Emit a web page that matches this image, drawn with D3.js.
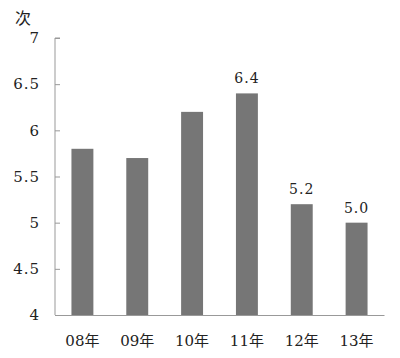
<!DOCTYPE html>
<html><head><meta charset="utf-8">
<script src="https://cdn.jsdelivr.net/npm/d3@7"></script>
<style>body{margin:0;background:#fff}svg{display:block}svg text{font-family:"DejaVu Serif","Liberation Serif","Times New Roman","Noto Sans CJK SC",serif !important;fill:#222}</style>
</head><body><div id="chart"></div>
<script>
const categories = ["08年","09年","10年","11年","12年","13年"];
const values = [5.8, 5.7, 6.2, 6.4, 5.2, 5.0];
const labelled = ["", "", "", "6.4", "5.2", "5.0"];
const yTicks = [4, 4.5, 5, 5.5, 6, 6.5, 7];
const yTitle = "次";

const W = 400, H = 358;
const m = {left: 55, right: 16, top: 38, bottom: 43};
const svg = d3.select("#chart").append("svg").attr("width", W).attr("height", H);

const x = d3.scaleBand().domain(categories).range([m.left, W - m.right]).paddingInner(0.6).paddingOuter(0.3);
const y = d3.scaleLinear().domain([4, 7]).range([H - m.bottom, m.top]);

svg.selectAll("rect.bar").data(values).join("rect")
  .attr("class","bar")
  .attr("x",(d,i)=>x(categories[i]))
  .attr("width",x.bandwidth())
  .attr("y",d=>y(d))
  .attr("height",d=>y(4)-y(d))
  .attr("fill","#767676");

const ya = svg.append("g").attr("transform",`translate(${m.left},0)`)
  .call(d3.axisRight(y).tickValues(yTicks).tickSize(5).tickFormat(d3.format("")));
ya.attr("font-family",null);
ya.select(".domain").attr("stroke","#999").attr("d",`M5,${y(7)}H0V${y(4)}`);
ya.selectAll(".tick line").attr("stroke","#999");
ya.selectAll(".tick text").attr("x",-15).attr("text-anchor","end")
  .style("font-size","15px").style("letter-spacing","1px").attr("dy","0.32em");

const xa = svg.append("g").attr("transform",`translate(0,${y(4)})`)
  .call(d3.axisBottom(x).tickSize(0).tickPadding(20));
xa.attr("font-family",null);
xa.select(".domain").attr("stroke","#999");
xa.selectAll(".tick text").style("font-size","15px");

svg.selectAll("text.val").data(values).join("text")
  .attr("class","val")
  .attr("x",(d,i)=>x(categories[i])+x.bandwidth()/2)
  .attr("y",d=>y(d)-10)
  .attr("text-anchor","middle")
  .style("font-size","14px").style("letter-spacing","1px")
  .text((d,i)=>labelled[i]);

svg.append("text").attr("x",23).attr("y",24).attr("text-anchor","middle")
  .style("font-size","16px").text(yTitle);
</script></body></html>
